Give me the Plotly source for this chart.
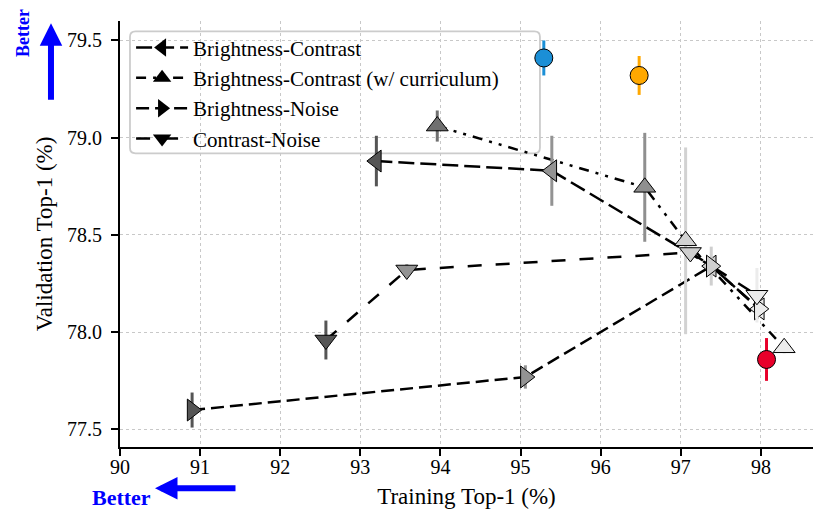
import plotly.graph_objects as go

# training / validation top-1 (%) with std as error bars
bc_train = [93.20, 95.39, 97.38, 97.98]
bc_val = [78.88, 78.83, 78.34, 78.12]
bc_err = [0.13, 0.18, 0.10, 0.04]

cur_train = [93.96, 96.55, 97.06, 98.29]
cur_val = [79.06, 78.745, 78.47, 77.92]
cur_err = [0.08, 0.28, 0.48, 0.03]

bn_train = [90.90, 95.06, 97.38, 97.98]
bn_val = [77.60, 77.77, 78.34, 78.12]
bn_err = [0.09, 0.06, 0.05, 0.04]

cn_train = [92.57, 93.58, 97.12, 97.95]
cn_val = [77.96, 78.32, 78.41, 78.19]
cn_err = [0.10, 0.03, 0.03, 0.14]

# single reference runs (circles)
base_train = [95.29, 96.48, 98.07]
base_val = [79.41, 79.32, 77.86]
base_err = [0.09, 0.10, 0.11]
base_colors = ["#1b8fd6", "#ffa800", "#e8002a"]

names = ["Brightness-Contrast", "Brightness-Contrast (w/ curriculum)",
         "Brightness-Noise", "Contrast-Noise"]

grays = ["#555555", "#939393", "#cfcfcf", "#ececec"]
cur_grays = ["#707070", "#8f8f8f", "#d2d2d2", "#ececec"]

series = [
    (names[0], bc_train, bc_val, bc_err, "triangle-left", "16px,6px", grays),
    (names[1], cur_train, cur_val, cur_err, "triangle-up", "10px,7px,3px,7px,3px,7px", cur_grays),
    (names[2], bn_train, bn_val, bn_err, "triangle-right", "13px,6px", grays),
    (names[3], cn_train, cn_val, cn_err, "triangle-down", "14px,14px", grays),
]

serif = "Liberation Serif"
fig = go.Figure()

# connecting lines
for name, xs, ys, errs, sym, dash, cols in series:
    fig.add_trace(go.Scatter(x=xs, y=ys, mode="lines", showlegend=False,
                             line=dict(color="black", width=2.5, dash=dash),
                             hoverinfo="skip"))

# points with their own gray level and error bar
for name, xs, ys, errs, sym, dash, cols in series:
    for x, y, e, c in zip(xs, ys, errs, cols):
        fig.add_trace(go.Scatter(
            x=[x], y=[y], mode="markers", showlegend=False,
            marker=dict(symbol=sym, size=19, color=c, line=dict(color="black", width=1)),
            error_y=dict(type="data", array=[e], color=c, thickness=3, width=0)))

for x, y, e, c in zip(base_train, base_val, base_err, base_colors):
    fig.add_trace(go.Scatter(
        x=[x], y=[y], mode="markers", showlegend=False,
        marker=dict(symbol="circle", size=18, color=c, line=dict(color="black", width=1)),
        error_y=dict(type="data", array=[e], color=c, thickness=3, width=0)))

# legend entries in black
for i, (name, xs, ys, errs, sym, dash, cols) in enumerate(series):
    fig.add_trace(go.Scatter(x=[None], y=[None], mode="lines+markers", name=name,
                             line=dict(color="black", width=2.5, dash=dash),
                             marker=dict(symbol=sym, size=16, color="black")))

ax_style = dict(showline=True, linecolor="black", linewidth=2, mirror=False,
                ticks="outside", ticklen=7, tickwidth=1.5, tickcolor="black",
                showgrid=True, gridcolor="#c8c8c8", griddash="dot", gridwidth=1,
                zeroline=False, automargin=False,
                tickfont=dict(family=serif, size=20, color="black"))

fig.update_xaxes(range=[90, 98.65], tickvals=list(range(90, 99)), ticklabelstandoff=-6,
                 title=dict(text="Training Top-1 (%)", standoff=11,
                            font=dict(family=serif, size=23, color="black")),
                 **ax_style)
fig.update_yaxes(range=[77.41, 79.60], tickvals=[77.5, 78.0, 78.5, 79.0, 79.5],
                 tickformat=".1f", ticklabelstandoff=5,
                 title=dict(text="Validation Top-1 (%)", standoff=8,
                            font=dict(family=serif, size=23, color="black")),
                 **ax_style)

# legend frame drawn under the markers (rounded box)
x0, x1, y0, y1 = 0.0144, 0.606, 0.6894, 0.9758
rx, ry = 0.008, 0.013
frame = (f"M {x0+rx},{y0} L {x1-rx},{y0} Q {x1},{y0} {x1},{y0+ry} "
         f"L {x1},{y1-ry} Q {x1},{y1} {x1-rx},{y1} L {x0+rx},{y1} "
         f"Q {x0},{y1} {x0},{y1-ry} L {x0},{y0+ry} Q {x0},{y0} {x0+rx},{y0} Z")
fig.add_shape(type="path", path=frame, xref="paper", yref="paper", layer="between",
              fillcolor="rgba(255,255,255,0.8)", line=dict(color="#cccccc", width=1.8))

fig.add_annotation(x=-0.0996, y=0.995, xref="paper", yref="paper", ax=0, ay=78,
                   text="", showarrow=True, arrowhead=2, arrowsize=0.75,
                   arrowwidth=6, arrowcolor="blue")
fig.add_annotation(x=-0.14, y=0.972, xref="paper", yref="paper", text="<b>Better</b>",
                   textangle=-90, showarrow=False, xanchor="center", yanchor="middle",
                   font=dict(family=serif, size=18, color="blue"))
fig.add_annotation(x=0.0505, y=-0.097, xref="paper", yref="paper", ax=82, ay=0,
                   text="", showarrow=True, arrowhead=2, arrowsize=0.75,
                   arrowwidth=6, arrowcolor="blue")
fig.add_annotation(x=0.0476, y=-0.118, xref="paper", yref="paper", text="<b>Better</b>",
                   showarrow=False, xanchor="right", yanchor="middle",
                   font=dict(family=serif, size=22, color="blue"))

fig.update_layout(
    width=822, height=523,
    margin=dict(l=112, r=17, t=13, b=84),
    plot_bgcolor="white", paper_bgcolor="white",
    showlegend=True,
    legend=dict(x=0.016, y=0.985, xanchor="left", yanchor="top",
                bgcolor="rgba(0,0,0,0)", borderwidth=0, itemwidth=52,
                font=dict(family=serif, size=21, color="black"),
                tracegroupgap=0),
)

fig.write_html("out.html")
